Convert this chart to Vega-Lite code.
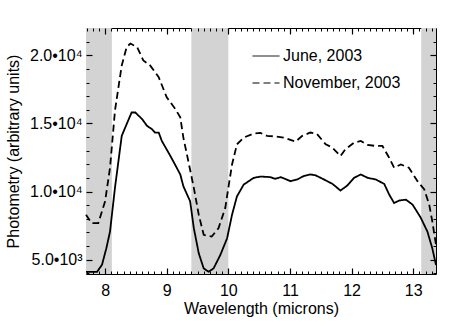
{
  "$schema": "https://vega.github.io/schema/vega-lite/v6.json",
  "width": 350,
  "height": 246,
  "autosize": {"type": "none"},
  "padding": {"left": 86, "top": 28, "right": 27, "bottom": 57},
  "background": "white",
  "config": {
    "font": "Liberation Sans",
    "view": {"stroke": "black", "strokeWidth": 1}
  },
  "datasets": {
    "spectra": [
      {"w": 7.69, "v": 4100, "s": "June, 2003"},
      {"w": 7.80, "v": 4100, "s": "June, 2003"},
      {"w": 7.87, "v": 4114, "s": "June, 2003"},
      {"w": 7.95, "v": 4630, "s": "June, 2003"},
      {"w": 8.02, "v": 5835, "s": "June, 2003"},
      {"w": 8.08, "v": 7070, "s": "June, 2003"},
      {"w": 8.16, "v": 10270, "s": "June, 2003"},
      {"w": 8.27, "v": 14085, "s": "June, 2003"},
      {"w": 8.35, "v": 14950, "s": "June, 2003"},
      {"w": 8.43, "v": 15800, "s": "June, 2003"},
      {"w": 8.49, "v": 15800, "s": "June, 2003"},
      {"w": 8.60, "v": 15320, "s": "June, 2003"},
      {"w": 8.68, "v": 14820, "s": "June, 2003"},
      {"w": 8.76, "v": 14580, "s": "June, 2003"},
      {"w": 8.81, "v": 14330, "s": "June, 2003"},
      {"w": 8.87, "v": 14330, "s": "June, 2003"},
      {"w": 8.92, "v": 13715, "s": "June, 2003"},
      {"w": 9.06, "v": 12610, "s": "June, 2003"},
      {"w": 9.22, "v": 11255, "s": "June, 2003"},
      {"w": 9.27, "v": 10390, "s": "June, 2003"},
      {"w": 9.38, "v": 9285, "s": "June, 2003"},
      {"w": 9.44, "v": 7310, "s": "June, 2003"},
      {"w": 9.52, "v": 5465, "s": "June, 2003"},
      {"w": 9.60, "v": 4360, "s": "June, 2003"},
      {"w": 9.68, "v": 4114, "s": "June, 2003"},
      {"w": 9.76, "v": 4360, "s": "June, 2003"},
      {"w": 9.87, "v": 5345, "s": "June, 2003"},
      {"w": 9.98, "v": 6575, "s": "June, 2003"},
      {"w": 10.06, "v": 8300, "s": "June, 2003"},
      {"w": 10.14, "v": 9650, "s": "June, 2003"},
      {"w": 10.25, "v": 10515, "s": "June, 2003"},
      {"w": 10.41, "v": 11000, "s": "June, 2003"},
      {"w": 10.52, "v": 11100, "s": "June, 2003"},
      {"w": 10.68, "v": 11060, "s": "June, 2003"},
      {"w": 10.76, "v": 10930, "s": "June, 2003"},
      {"w": 10.85, "v": 11060, "s": "June, 2003"},
      {"w": 11.01, "v": 10760, "s": "June, 2003"},
      {"w": 11.12, "v": 10890, "s": "June, 2003"},
      {"w": 11.22, "v": 11130, "s": "June, 2003"},
      {"w": 11.33, "v": 11255, "s": "June, 2003"},
      {"w": 11.41, "v": 11200, "s": "June, 2003"},
      {"w": 11.55, "v": 10890, "s": "June, 2003"},
      {"w": 11.69, "v": 10560, "s": "June, 2003"},
      {"w": 11.82, "v": 10075, "s": "June, 2003"},
      {"w": 11.93, "v": 10440, "s": "June, 2003"},
      {"w": 12.04, "v": 11005, "s": "June, 2003"},
      {"w": 12.15, "v": 11255, "s": "June, 2003"},
      {"w": 12.26, "v": 11005, "s": "June, 2003"},
      {"w": 12.39, "v": 10890, "s": "June, 2003"},
      {"w": 12.53, "v": 10560, "s": "June, 2003"},
      {"w": 12.61, "v": 9780, "s": "June, 2003"},
      {"w": 12.69, "v": 9160, "s": "June, 2003"},
      {"w": 12.77, "v": 9335, "s": "June, 2003"},
      {"w": 12.88, "v": 9410, "s": "June, 2003"},
      {"w": 12.99, "v": 9040, "s": "June, 2003"},
      {"w": 13.12, "v": 8100, "s": "June, 2003"},
      {"w": 13.23, "v": 7070, "s": "June, 2003"},
      {"w": 13.31, "v": 5835, "s": "June, 2003"},
      {"w": 13.37, "v": 4610, "s": "June, 2003"},
      {"w": 7.69, "v": 8300, "s": "November, 2003"},
      {"w": 7.78, "v": 7680, "s": "November, 2003"},
      {"w": 7.89, "v": 7680, "s": "November, 2003"},
      {"w": 8.00, "v": 9285, "s": "November, 2003"},
      {"w": 8.08, "v": 11745, "s": "November, 2003"},
      {"w": 8.16, "v": 15930, "s": "November, 2003"},
      {"w": 8.27, "v": 19255, "s": "November, 2003"},
      {"w": 8.35, "v": 20600, "s": "November, 2003"},
      {"w": 8.41, "v": 20860, "s": "November, 2003"},
      {"w": 8.52, "v": 20600, "s": "November, 2003"},
      {"w": 8.62, "v": 19625, "s": "November, 2003"},
      {"w": 8.73, "v": 19255, "s": "November, 2003"},
      {"w": 8.87, "v": 18390, "s": "November, 2003"},
      {"w": 9.00, "v": 16915, "s": "November, 2003"},
      {"w": 9.14, "v": 16055, "s": "November, 2003"},
      {"w": 9.22, "v": 15440, "s": "November, 2003"},
      {"w": 9.27, "v": 13960, "s": "November, 2003"},
      {"w": 9.35, "v": 12240, "s": "November, 2003"},
      {"w": 9.44, "v": 10270, "s": "November, 2003"},
      {"w": 9.52, "v": 8300, "s": "November, 2003"},
      {"w": 9.60, "v": 6825, "s": "November, 2003"},
      {"w": 9.73, "v": 6700, "s": "November, 2003"},
      {"w": 9.84, "v": 7310, "s": "November, 2003"},
      {"w": 9.95, "v": 8790, "s": "November, 2003"},
      {"w": 10.00, "v": 10270, "s": "November, 2003"},
      {"w": 10.06, "v": 11990, "s": "November, 2003"},
      {"w": 10.14, "v": 13470, "s": "November, 2003"},
      {"w": 10.25, "v": 13960, "s": "November, 2003"},
      {"w": 10.41, "v": 14255, "s": "November, 2003"},
      {"w": 10.52, "v": 14300, "s": "November, 2003"},
      {"w": 10.63, "v": 14085, "s": "November, 2003"},
      {"w": 10.74, "v": 14050, "s": "November, 2003"},
      {"w": 10.90, "v": 13960, "s": "November, 2003"},
      {"w": 11.09, "v": 13665, "s": "November, 2003"},
      {"w": 11.20, "v": 14085, "s": "November, 2003"},
      {"w": 11.33, "v": 14330, "s": "November, 2003"},
      {"w": 11.44, "v": 14210, "s": "November, 2003"},
      {"w": 11.58, "v": 13470, "s": "November, 2003"},
      {"w": 11.69, "v": 13220, "s": "November, 2003"},
      {"w": 11.82, "v": 12610, "s": "November, 2003"},
      {"w": 11.90, "v": 13100, "s": "November, 2003"},
      {"w": 12.04, "v": 13590, "s": "November, 2003"},
      {"w": 12.15, "v": 13715, "s": "November, 2003"},
      {"w": 12.26, "v": 13420, "s": "November, 2003"},
      {"w": 12.39, "v": 13345, "s": "November, 2003"},
      {"w": 12.50, "v": 13345, "s": "November, 2003"},
      {"w": 12.61, "v": 12480, "s": "November, 2003"},
      {"w": 12.69, "v": 11745, "s": "November, 2003"},
      {"w": 12.80, "v": 11990, "s": "November, 2003"},
      {"w": 12.93, "v": 11745, "s": "November, 2003"},
      {"w": 13.07, "v": 10760, "s": "November, 2003"},
      {"w": 13.18, "v": 10150, "s": "November, 2003"},
      {"w": 13.26, "v": 9040, "s": "November, 2003"},
      {"w": 13.31, "v": 7810, "s": "November, 2003"},
      {"w": 13.37, "v": 6085, "s": "November, 2003"}
    ],
    "bands": [
      {"a": 7.69, "b": 8.11},
      {"a": 9.40, "b": 10.0},
      {"a": 13.13, "b": 13.37}
    ]
  },
  "resolve": {"axis": {"x": "independent", "y": "independent"}},
  "layer": [
    {
      "data": {"name": "bands"},
      "mark": {"type": "rect", "color": "#d3d3d3"},
      "encoding": {
        "x": {"field": "a", "type": "quantitative", "scale": {"domain": [7.69, 13.37], "nice": false, "zero": false}, "axis": null},
        "x2": {"field": "b"}
      }
    },
    {
      "data": {"name": "spectra"},
      "mark": {"type": "line", "color": "black", "strokeWidth": 1.8},
      "encoding": {
        "x": {"field": "w", "type": "quantitative", "scale": {"domain": [7.69, 13.37], "nice": false, "zero": false},
          "axis": {"orient": "bottom", "values": [8, 9, 10, 11, 12, 13], "tickSize": -6, "tickColor": "black", "tickWidth": 1.2, "zindex": 2, "grid": false, "domain": false,
            "labelPadding": 14, "labelFont": "Liberation Sans", "labelFontSize": 16, "labelColor": "black", "labelFlush": false,
            "title": "Wavelength (microns)", "titleFont": "Liberation Sans", "titleFontSize": 16, "titleFontWeight": "normal", "titleColor": "black", "titlePadding": 2}},
        "y": {"field": "v", "type": "quantitative", "scale": {"domain": [3950, 22000], "nice": false, "zero": false},
          "axis": {"orient": "left", "values": [5000, 10000, 15000, 20000], "tickSize": -6, "tickColor": "black", "tickWidth": 1.2, "zindex": 2, "grid": false, "domain": false,
            "labelPadding": 10, "labelFont": "Liberation Sans", "labelFontSize": 16, "labelColor": "black",
            "labelExpr": "datum.value == 5000 ? '5.0•10³' : format(datum.value / 10000, '.1f') + '•10⁴'",
            "title": "Photometry (arbitrary units)", "titleFont": "Liberation Sans", "titleFontSize": 16, "titleFontWeight": "normal", "titleColor": "black", "titlePadding": 8}},
        "strokeDash": {"field": "s", "type": "nominal",
          "scale": {"domain": ["June, 2003", "November, 2003"], "range": [[1, 0], [7, 4]]},
          "legend": {"title": null, "orient": "none", "legendX": 166, "legendY": 14, "symbolType": "stroke", "symbolSize": 729, "symbolStrokeWidth": 1, "symbolStrokeColor": "black", "labelFontSize": 16, "labelFont": "Liberation Sans", "labelColor": "black", "labelOffset": 3, "rowPadding": 5}}
      }
    },
    {
      "data": {"name": "spectra"},
      "mark": {"type": "point", "opacity": 0},
      "encoding": {
        "x": {"field": "w", "type": "quantitative", "scale": {"domain": [7.69, 13.37], "nice": false, "zero": false},
          "axis": {"orient": "bottom", "values": [7.7, 7.8, 7.9, 8.1, 8.2, 8.3, 8.4, 8.5, 8.6, 8.7, 8.8, 8.9, 9.1, 9.2, 9.3, 9.4, 9.5, 9.6, 9.7, 9.8, 9.9, 10.1, 10.2, 10.3, 10.4, 10.5, 10.6, 10.7, 10.8, 10.9, 11.1, 11.2, 11.3, 11.4, 11.5, 11.6, 11.7, 11.8, 11.9, 12.1, 12.2, 12.3, 12.4, 12.5, 12.6, 12.7, 12.8, 12.9, 13.1, 13.2, 13.3], "tickSize": -3, "tickColor": "black", "tickWidth": 1, "zindex": 2, "grid": false, "labels": false, "domain": false, "title": null}},
        "y": {"field": "v", "type": "quantitative", "scale": {"domain": [3950, 22000], "nice": false, "zero": false},
          "axis": {"orient": "left", "values": [4000, 6000, 7000, 8000, 9000, 11000, 12000, 13000, 14000, 16000, 17000, 18000, 19000, 21000], "tickSize": -3, "tickColor": "black", "tickWidth": 1, "zindex": 2, "grid": false, "labels": false, "domain": false, "title": null}}
      }
    },
    {
      "data": {"name": "spectra"},
      "mark": {"type": "point", "opacity": 0},
      "encoding": {
        "x": {"field": "w", "type": "quantitative", "scale": {"domain": [7.69, 13.37], "nice": false, "zero": false},
          "axis": {"orient": "top", "values": [8, 9, 10, 11, 12, 13], "tickSize": -6, "tickColor": "black", "tickWidth": 1.2, "zindex": 2, "grid": false, "domain": false, "labels": false, "title": null}},
        "y": {"field": "v", "type": "quantitative", "scale": {"domain": [3950, 22000], "nice": false, "zero": false},
          "axis": {"orient": "right", "values": [5000, 10000, 15000, 20000], "tickSize": -6, "tickColor": "black", "tickWidth": 1.2, "zindex": 2, "grid": false, "domain": false, "labels": false, "title": null}}
      }
    },
    {
      "data": {"name": "spectra"},
      "mark": {"type": "point", "opacity": 0},
      "encoding": {
        "x": {"field": "w", "type": "quantitative", "scale": {"domain": [7.69, 13.37], "nice": false, "zero": false},
          "axis": {"orient": "top", "values": [7.7, 7.8, 7.9, 8.1, 8.2, 8.3, 8.4, 8.5, 8.6, 8.7, 8.8, 8.9, 9.1, 9.2, 9.3, 9.4, 9.5, 9.6, 9.7, 9.8, 9.9, 10.1, 10.2, 10.3, 10.4, 10.5, 10.6, 10.7, 10.8, 10.9, 11.1, 11.2, 11.3, 11.4, 11.5, 11.6, 11.7, 11.8, 11.9, 12.1, 12.2, 12.3, 12.4, 12.5, 12.6, 12.7, 12.8, 12.9, 13.1, 13.2, 13.3], "tickSize": -3, "tickColor": "black", "tickWidth": 1, "zindex": 2, "grid": false, "labels": false, "domain": false, "title": null}},
        "y": {"field": "v", "type": "quantitative", "scale": {"domain": [3950, 22000], "nice": false, "zero": false},
          "axis": {"orient": "right", "values": [4000, 6000, 7000, 8000, 9000, 11000, 12000, 13000, 14000, 16000, 17000, 18000, 19000, 21000], "tickSize": -3, "tickColor": "black", "tickWidth": 1, "zindex": 2, "grid": false, "labels": false, "domain": false, "title": null}}
      }
    }
  ]
}
